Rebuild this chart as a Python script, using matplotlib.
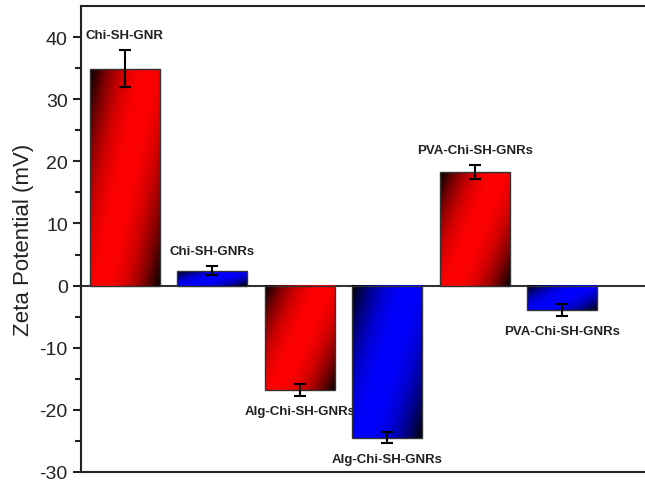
import numpy as np
import matplotlib.pyplot as plt

plt.rcParams['font.family'] = ['Liberation Sans', 'DejaVu Sans']
plt.rcParams['axes.unicode_minus'] = False

samples = ['Chi-SH-GNR', 'Chi-SH-GNRs', 'Alg-Chi-SH-GNRs',
           'Alg-Chi-SH-GNRs', 'PVA-Chi-SH-GNRs', 'PVA-Chi-SH-GNRs']
zeta = [34.9, 2.4, -16.8, -24.5, 18.3, -3.9]
zeta_err = [3.0, 0.7, 1.0, 0.9, 1.1, 1.0]
bar_colors = ['red', 'blue', 'red', 'blue', 'red', 'blue']

base_rgb = {'red': (1.0, 0.0, 0.0), 'blue': (0.0, 0.0, 1.0)}


def gradient_img(rgb, nx=80, ny=240):
    # black corners top-left / bottom-right, full colour along the diagonal
    u = np.linspace(0, 1, nx)[None, :]
    v = np.linspace(0, 1, ny)[:, None]
    d = (u * 1.2 + v * 0.8) / 2.0
    k = 1 - np.abs(2 * d - 1) ** 2.0
    img = np.zeros((ny, nx, 3))
    for c in range(3):
        img[:, :, c] = rgb[c] * k
    return img


fig = plt.figure(figsize=(6.45, 4.81), dpi=100)
ax = fig.add_axes([81 / 645, 8 / 481, 569 / 645, 466 / 481])

x = np.arange(1, len(zeta) + 1)
w = 0.8

for xi, val, col in zip(x, zeta, bar_colors):
    lo, hi = min(0, val), max(0, val)
    ax.imshow(gradient_img(base_rgb[col]), extent=(xi - w / 2, xi + w / 2, lo, hi),
              aspect='auto', origin='upper', zorder=2, interpolation='bilinear')

ax.bar(x, zeta, width=w, fill=False, edgecolor='#333333', linewidth=1.0, zorder=3)
ax.errorbar(x, zeta, yerr=zeta_err, fmt='none', ecolor='black', elinewidth=1.5,
            capsize=4, capthick=1.5, zorder=4)
ax.axhline(0, color='#333333', lw=1.5, zorder=1)

for xi, val, err, name in zip(x, zeta, zeta_err, samples):
    if val >= 0:
        ax.annotate(name, (xi, val + err), xytext=(0, 11), textcoords='offset points',
                    ha='center', va='center', fontsize=9.5, fontweight='bold', color='#222222')
    else:
        ax.annotate(name, (xi, val - err), xytext=(0, -11), textcoords='offset points',
                    ha='center', va='center', fontsize=9.5, fontweight='bold', color='#222222')

ax.set_xlim(0.5, 7.0)
ax.set_ylim(-30, 45)
ax.set_yticks([-30, -20, -10, 0, 10, 20, 30, 40])
ax.set_yticks(np.arange(-25, 45, 10), minor=True)
ax.set_xticks([])
ax.tick_params(axis='y', which='major', direction='out', length=6, width=1.5,
               labelsize=14, colors='#222222')
ax.tick_params(axis='y', which='minor', direction='out', length=4, width=1.5, colors='#222222')
ax.set_ylabel('Zeta Potential (mV)', fontsize=16, labelpad=4, color='#222222')

for s in ['left', 'top', 'bottom']:
    ax.spines[s].set_linewidth(1.5)
    ax.spines[s].set_color('#222222')
ax.spines['right'].set_visible(False)

fig.savefig('out.png', dpi=100)
